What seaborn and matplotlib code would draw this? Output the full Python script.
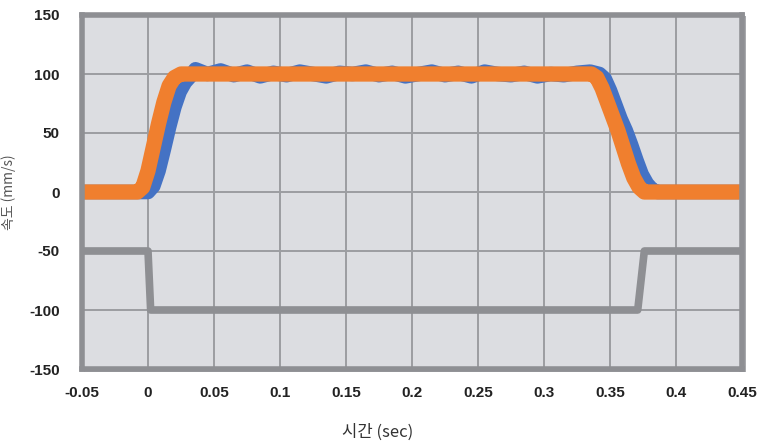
"""
Velocity step response: command vs. actual speed with trigger signal.
"""
import matplotlib
matplotlib.use("Agg")
import matplotlib.pyplot as plt
import matplotlib.patches as mpatches
import numpy as np
import pandas as pd
import seaborn as sns

# ── data ─────────────────────────────────────────────────────────────────────
cmd_t = [-0.05, -0.008, -0.004, 0.0, 0.004, 0.008, 0.012, 0.016, 0.020, 0.025,
         0.030, 0.336, 0.340, 0.344, 0.348, 0.352, 0.356, 0.360, 0.364, 0.368,
         0.372, 0.376, 0.45]
cmd_v = [0, 0, 4, 18, 38, 58, 76, 90, 97, 100,
         100, 100, 97, 88, 76, 64, 52, 38, 24, 12,
         4, 0, 0]

act_t = [-0.05, 0.0, 0.004, 0.008, 0.012, 0.016, 0.020, 0.024, 0.028, 0.032,
         0.036, 0.045, 0.055, 0.065, 0.075, 0.085, 0.095, 0.105, 0.115, 0.125,
         0.135, 0.145, 0.155, 0.165, 0.175, 0.185, 0.195, 0.205, 0.215, 0.225,
         0.235, 0.245, 0.255, 0.265, 0.275, 0.285, 0.295, 0.305, 0.315, 0.325,
         0.335, 0.342, 0.346, 0.350, 0.354, 0.358, 0.362, 0.366, 0.370, 0.374,
         0.378, 0.382, 0.386, 0.45]
act_v = [0, 0, 5, 18, 36, 55, 72, 85, 93, 98,
         104, 100, 103, 99, 102, 98, 101, 99, 102, 100,
         98, 101, 100, 102, 99, 101, 98, 100, 102, 99,
         101, 98, 102, 100, 99, 101, 98, 100, 99, 101,
         102, 100, 96, 86, 74, 62, 52, 40, 27, 15,
         7, 2, 0, 0]

trig_t = [-0.05, 0.0, 0.002, 0.371, 0.376, 0.45]
trig_v = [-50, -50, -100, -100, -50, -50]

x_ticks = [-0.05, 0, 0.05, 0.1, 0.15, 0.2, 0.25, 0.3, 0.35, 0.4, 0.45]
x_labels = ["-0.05", "0", "0.05", "0.1", "0.15", "0.2", "0.25", "0.3",
            "0.35", "0.4", "0.45"]
y_ticks = [150, 100, 50, 0, -50, -100, -150]
y_labels = ["150", "100", "50", "0", "-50", "-100", "-150"]

# ── styling ─────────────────────────────────────────────────────────────────
sns.set_theme(style="white")
plt.rcParams["font.family"] = ["Liberation Sans Narrow", "Liberation Sans",
                               "DejaVu Sans"]

df = pd.concat([
    pd.DataFrame({"t": trig_t, "v": trig_v, "series": "trigger"}),
    pd.DataFrame({"t": act_t, "v": act_v, "series": "actual"}),
    pd.DataFrame({"t": cmd_t, "v": cmd_v, "series": "command"}),
])

W, H = 774, 445
fig = plt.figure(figsize=(W / 100, H / 100), dpi=100)

# drop shadow behind the plot frame
fig.patches.append(mpatches.Rectangle(
    (84 / W, 1 - 372 / H), 662 / W, 356 / H, transform=fig.transFigure,
    facecolor="#A9AAAD", edgecolor="none", zorder=-1))

ax = fig.add_axes([82 / W, 1 - 369 / H, 660 / W, 354 / H])
ax.set_facecolor("#DCDDE1")

styles = {
    "trigger": ("#8E8F93", 5.5),
    "actual":  ("#4472C4", 10.5),
    "command": ("#F07F2E", 11.0),
}
for name in ["trigger", "actual", "command"]:
    color, lw = styles[name]
    sns.lineplot(data=df[df["series"] == name], x="t", y="v", ax=ax,
                 color=color, linewidth=lw, solid_capstyle="butt",
                 solid_joinstyle="round", sort=False, estimator=None)

ax.set_xlim(-0.05, 0.45)
ax.set_ylim(-150, 150)
ax.set_xticks(x_ticks)
ax.set_xticklabels(x_labels)
ax.set_yticks(y_ticks)
ax.set_yticklabels(y_labels)
ax.tick_params(axis="y", length=0, labelsize=11, pad=16)
ax.tick_params(axis="x", length=0, labelsize=11, pad=12)
for lab in ax.get_xticklabels() + ax.get_yticklabels():
    lab.set_fontweight("bold")
    lab.set_color("#222222")

ax.grid(True, color="#9C9DA1", linewidth=1.4)
ax.set_axisbelow(True)
for sp in ax.spines.values():
    sp.set_visible(True)
    sp.set_color("#8E8F93")
    sp.set_linewidth(4.0)

ax.set_xlabel("")
ax.set_ylabel("")
fig.text(378 / W, 1 - 432 / H, "시간 (sec)", ha="center", va="center",
         fontsize=12, color="#333333",
         family=["Noto Sans CJK KR", "DejaVu Sans"])
fig.text(9 / W, 1 - 192 / H, "속도 (mm/s)", ha="center", va="center",
         rotation=90, fontsize=10, color="#555555",
         family=["Noto Sans CJK KR", "DejaVu Sans"])

fig.savefig("out.png", dpi=100)
plt.close(fig)
